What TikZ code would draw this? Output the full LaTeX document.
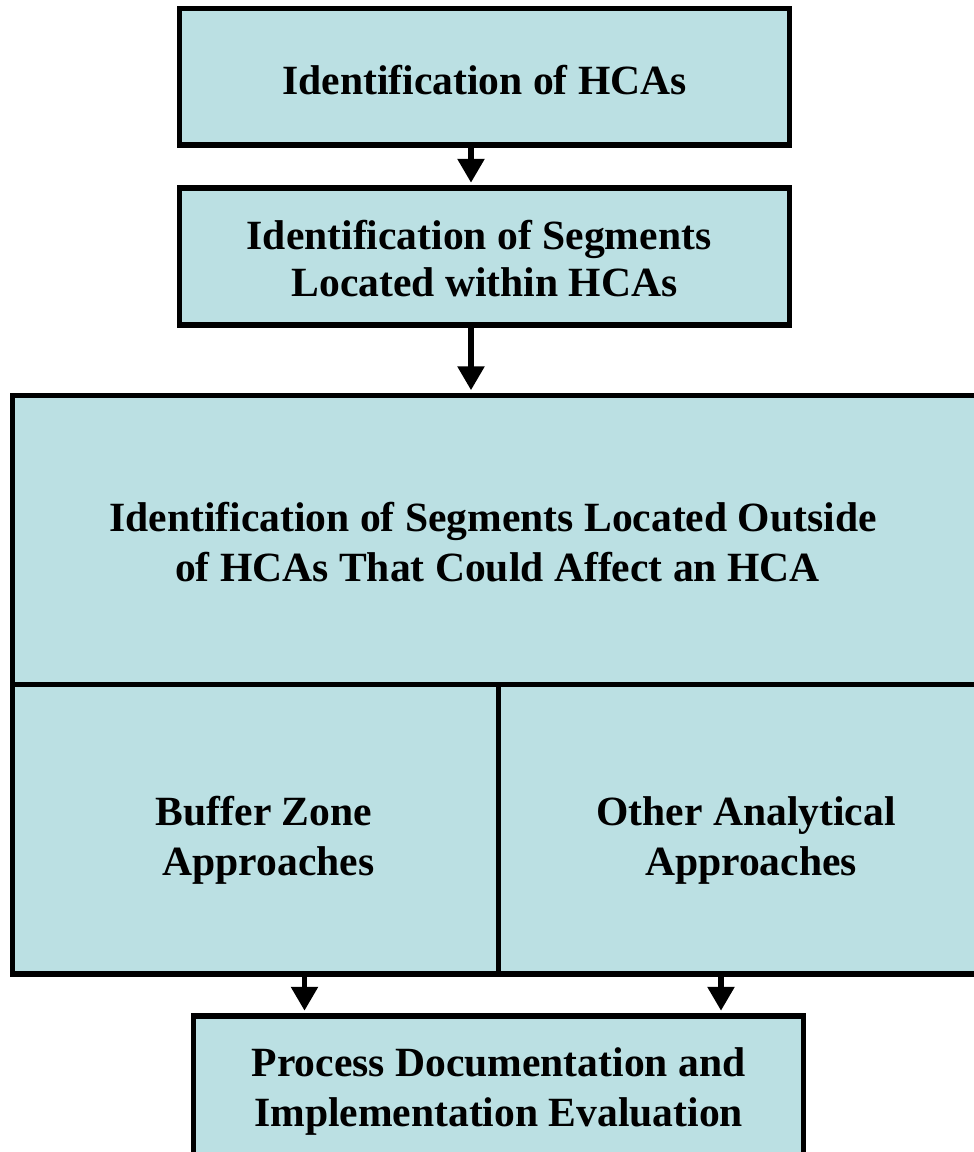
\documentclass[tikz,border=0pt]{standalone}
\usepackage{fontspec}
\setmainfont{Liberation Serif}
\usetikzlibrary{arrows.meta}
\definecolor{boxfill}{RGB}{187,224,227}
\tikzset{
  box/.style={draw=black, line width=5.5pt, fill=boxfill, rectangle, inner sep=0pt},
  tx/.style={align=center, inner sep=0pt, font={\fontsize{41.6}{50}\selectfont\bfseries}},
  arr/.style={line width=5.7pt, -{Triangle[width=26pt,length=24pt]}, shorten >=2.5pt}
}
\begin{document}
\begin{tikzpicture}[x=1pt,y=-1pt]
\useasboundingbox (0,0) rectangle (974,1152);
\node[box, minimum width=610pt, minimum height=136.5pt] (b1) at (484.5,76.75) {};
\node[box, minimum width=610pt, minimum height=137pt] (b2) at (484.5,256.5) {};
\node[box, minimum width=977.3pt, minimum height=289.2pt] (big) at (501.35,540.1) {};
\node[box, minimum width=485.8pt, minimum height=289.3pt] (buf) at (255.6,829.35) {};
\node[box, minimum width=491.5pt, minimum height=289.3pt] (oth) at (744.25,829.35) {};
\node[box, minimum width=610.2pt, minimum height=142pt] (bot) at (498.6,1087) {};
\node[tx] (b1t) at (484.5,79.75) {Identification of HCAs};
\node[tx, font={\fontsize{41.6}{47}\selectfont\bfseries}] (b2t) at (484.5,258.5) {Identification of Segments\hspace*{11pt}\\ Located within HCAs};
\node[tx] (bigt) at (493,542.1) {Identification of Segments Located Outside\\\hspace*{9pt}of HCAs That Could Affect an HCA};
\node[tx] (buft) at (264,840.3) {Buffer Zone\\\hspace*{9pt}Approaches};
\node[tx] (otht) at (746,840.3) {Other Analytical\\\hspace*{10pt}Approaches};
\node[tx] (bott) at (498.6,1091.5) {Process Documentation and\\Implementation Evaluation};
\coordinate (c1) at (471,0);
\coordinate (c2) at (304.5,0);
\coordinate (c3) at (721,0);
\draw[arr] (b1.south -| c1) -- (b2.north -| c1);
\draw[arr] (b2.south -| c1) -- (big.north -| c1);
\draw[arr] (buf.south -| c2) -- (bot.north -| c2);
\draw[arr] (oth.south -| c3) -- (bot.north -| c3);
\end{tikzpicture}
\end{document}
